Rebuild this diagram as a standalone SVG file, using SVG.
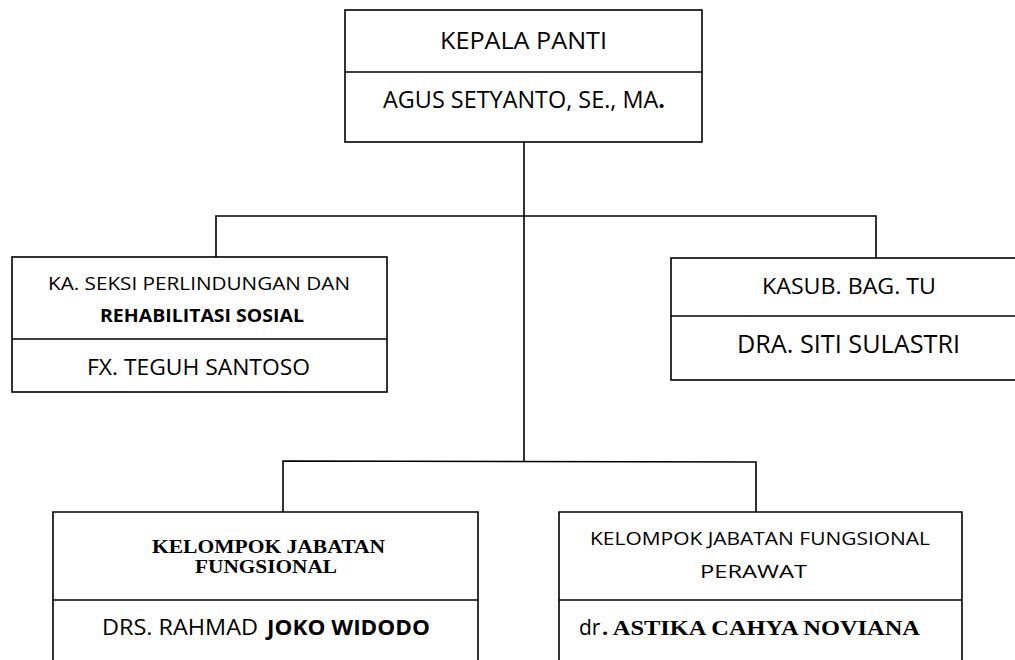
<svg xmlns="http://www.w3.org/2000/svg" width="1015" height="660" viewBox="0 0 1015 660">
<style>
.box{fill:#fff;stroke:#000;stroke-width:1.6}
.ln{fill:none;stroke:#000;stroke-width:1.6}
.s{font-family:"Open Sans","Liberation Sans",sans-serif;fill:#000}
.t{font-family:"Liberation Serif","Times New Roman",serif;font-weight:bold;fill:#000}
.b{font-weight:bold}
</style>
<rect width="1015" height="660" fill="#fff"/>
<g id="connectors">
<path class="ln" d="M524 142 V461"/>
<path class="ln" d="M216 257 V216 H876 V258"/>
<path class="ln" d="M283 512 V461 L756 462 V512"/>
</g>
<g id="kepala">
<rect class="box" x="345" y="10" width="357" height="132"/>
<line class="ln" x1="345" y1="72" x2="702" y2="72"/>
<text class="s" x="440" y="49" font-size="24" textLength="167" lengthAdjust="spacingAndGlyphs">KEPALA PANTI</text>
<text class="s" x="383" y="108" font-size="23" textLength="282" lengthAdjust="spacingAndGlyphs">AGUS SETYANTO, SE., MA<tspan class="b">.</tspan></text>
</g>
<g id="seksi">
<rect class="box" x="12" y="257" width="375" height="135"/>
<line class="ln" x1="12" y1="339" x2="387" y2="339"/>
<text class="s" x="48" y="290" font-size="17.5" textLength="302" lengthAdjust="spacingAndGlyphs">KA. SEKSI PERLINDUNGAN DAN</text>
<text class="s b" x="100" y="322" font-size="17.5" textLength="204" lengthAdjust="spacingAndGlyphs">REHABILITASI SOSIAL</text>
<text class="s" x="87" y="375" font-size="21" textLength="223" lengthAdjust="spacingAndGlyphs">FX. TEGUH SANTOSO</text>
</g>
<g id="kasub">
<rect class="box" x="671" y="258" width="360" height="122"/>
<line class="ln" x1="671" y1="316" x2="1031" y2="316"/>
<text class="s" x="762" y="294" font-size="21" textLength="174" lengthAdjust="spacingAndGlyphs">KASUB. BAG. TU</text>
<text class="s" x="737" y="353" font-size="25" textLength="223" lengthAdjust="spacingAndGlyphs">DRA. SITI SULASTRI</text>
</g>
<g id="fungsional">
<path class="box" d="M53 670 V512 H478 V670"/>
<line class="ln" x1="53" y1="600" x2="478" y2="600"/>
<text class="t" x="152" y="553" font-size="19.5" textLength="233" lengthAdjust="spacingAndGlyphs">KELOMPOK JABATAN</text>
<text class="t" x="195" y="573" font-size="19.5" textLength="142" lengthAdjust="spacingAndGlyphs">FUNGSIONAL</text>
<text class="s" x="102" y="635" font-size="21" textLength="156" lengthAdjust="spacingAndGlyphs">DRS. RAHMAD</text>
<text class="s b" x="267" y="635" font-size="21" textLength="163" lengthAdjust="spacingAndGlyphs">JOKO WIDODO</text>
</g>
<g id="perawat">
<path class="box" d="M559 670 V512 H962 V670"/>
<line class="ln" x1="559" y1="600" x2="962" y2="600"/>
<text class="s" x="590" y="545" font-size="19" textLength="340" lengthAdjust="spacingAndGlyphs">KELOMPOK JABATAN FUNGSIONAL</text>
<text class="s" x="700" y="578" font-size="19" textLength="107" lengthAdjust="spacingAndGlyphs">PERAWAT</text>
<text class="s" x="579" y="635" font-size="21">dr</text>
<text class="t" x="602" y="635" font-size="22" textLength="318" lengthAdjust="spacingAndGlyphs">. ASTIKA CAHYA NOVIANA</text>
</g>
</svg>
